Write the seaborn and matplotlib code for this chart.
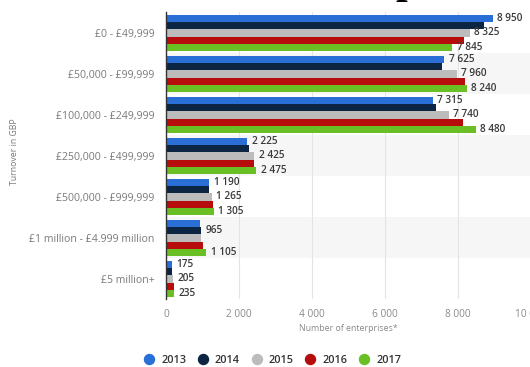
import matplotlib
matplotlib.use("Agg")
import matplotlib.pyplot as plt
import seaborn as sns
import pandas as pd
from matplotlib.lines import Line2D

categories = ["£0 - £49,999", "£50,000 - £99,999", "£100,000 - £249,999",
              "£250,000 - £499,999", "£500,000 - £999,999",
              "£1 million - £4.999 million", "£5 million+"]
years = ["2013", "2014", "2015", "2016", "2017"]
v2013 = [8950, 7625, 7315, 2225, 1190, 945, 175]
v2014 = [8700, 7555, 7400, 2275, 1185, 965, 180]
v2015 = [8325, 7960, 7740, 2425, 1265, 975, 205]
v2016 = [8150, 8180, 8125, 2410, 1285, 1020, 215]
v2017 = [7845, 8240, 8480, 2475, 1305, 1105, 235]
# which bars carry a value label (per category, per year)
show_label = [
    [1, 0, 1, 0, 1],
    [1, 0, 1, 0, 1],
    [1, 0, 1, 0, 1],
    [1, 0, 1, 0, 1],
    [1, 0, 1, 0, 1],
    [0, 1, 0, 0, 1],
    [1, 0, 1, 0, 1],
]
colors = ["#2a6fd6", "#0c2542", "#bcbcbc", "#b70c0c", "#6abf25"]
xticks = [0, 2000, 4000, 6000, 8000, 10000]
xtick_labels = ["0", "2 000", "4 000", "6 000", "8 000", "10 000"]

series = [v2013, v2014, v2015, v2016, v2017]
rows = []
for y, vals in zip(years, series):
    for c, v in zip(categories, vals):
        rows.append({"Turnover": c, "Year": y, "Count": v})
df = pd.DataFrame(rows)

sns.set_style("white")
plt.rcParams["font.family"] = ["Open Sans", "DejaVu Sans"]

fig = plt.figure(figsize=(5.30, 3.67), dpi=100)
ax = fig.add_axes([0.313, 0.184, 0.689, 0.782])

for i in range(len(categories)):
    if i % 2 == 1:
        ax.axhspan(i - 0.5, i + 0.5, color="#f6f6f6", zorder=0, lw=0)

sns.barplot(data=df, y="Turnover", x="Count", hue="Year", order=categories,
            hue_order=years, palette=colors, orient="h", width=0.9,
            saturation=1, linewidth=0, ax=ax, legend=False, zorder=3)

ax.set_xlim(0, 10000)
ax.set_ylim(len(categories) - 0.5, -0.5)
ax.set_xticks(xticks)
ax.set_xticklabels(xtick_labels, color="#8a8a8a", fontsize=7.3)
ax.tick_params(axis="both", length=0)
ax.tick_params(axis="x", pad=7)
ax.tick_params(axis="y", pad=8)
for lab in ax.get_yticklabels():
    lab.set_color("#7a7a7a")
    lab.set_fontsize(7.6)
ax.grid(axis="x", color="#e4e4e4", lw=0.8, zorder=1)
ax.set_axisbelow(True)
for s in ["top", "right", "bottom"]:
    ax.spines[s].set_visible(False)
ax.spines["left"].set_color("#333333")
ax.spines["left"].set_linewidth(1.0)
ax.spines["left"].set_zorder(5)

ax.set_xlabel("Number of enterprises*", color="#8a8a8a", fontsize=6.3, labelpad=3)
ax.set_ylabel("")
fig.text(0.028, 0.586, "Turnover in GBP", rotation=90, color="#7a7a7a",
         fontsize=6.3, ha="center", va="center")

for j, cont in enumerate(ax.containers):
    for i, bar in enumerate(cont):
        if show_label[i][j]:
            w = bar.get_width()
            yc = bar.get_y() + bar.get_height() / 2
            ax.text(w + 120, yc, f"{int(w):,}".replace(",", " "),
                    va="center", ha="left", fontsize=7.2, color="#3a3a3a",
                    fontweight="semibold", zorder=6)

handles = [Line2D([], [], marker="o", ls="", markersize=7.2,
                  markerfacecolor=c, markeredgecolor=c) for c in colors]
fig.legend(handles, years, loc="center", bbox_to_anchor=(0.513, 0.018),
           ncol=5, frameon=False, handletextpad=0.5, handlelength=1.2,
           columnspacing=0.95, prop={"weight": "semibold", "size": 7.8})
for t in fig.legends[0].get_texts():
    t.set_color("#333333")

# partially cropped title at the top edge (only descenders visible)
fig.text(0.719, 1.019, "span,", fontsize=30, family="Liberation Serif",
         fontweight="bold", ha="left", va="baseline", color="black")

fig.savefig("out.png", dpi=100)
